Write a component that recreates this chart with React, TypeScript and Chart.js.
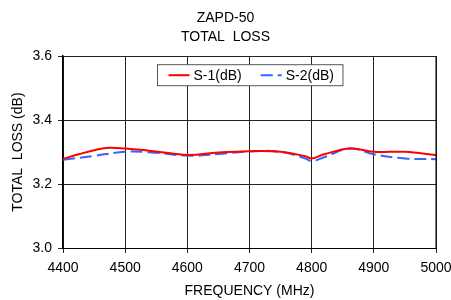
import React, { useEffect, useRef } from "react";
import { Chart, registerables } from "chart.js";

Chart.register(...registerables);

const titleLines = ["ZAPD-50", "TOTAL  LOSS"];
const xTitle = "FREQUENCY (MHz)";
const yTitle = "TOTAL  LOSS (dB)";
const seriesNames = ["S-1(dB)", "S-2(dB)"];

const s1Freq = [4400, 4425, 4450, 4470, 4500, 4550, 4600, 4650, 4700, 4750, 4790, 4800, 4820, 4862, 4900, 4950, 5000];
const s1Loss = [3.279, 3.293, 3.306, 3.313, 3.311, 3.302, 3.291, 3.299, 3.303, 3.301, 3.287, 3.280, 3.293, 3.311, 3.301, 3.301, 3.291];

const s2Freq = [4400, 4450, 4500, 4550, 4600, 4650, 4700, 4750, 4790, 4800, 4820, 4862, 4900, 4950, 5000];
const s2Loss = [3.276, 3.288, 3.301, 3.298, 3.289, 3.294, 3.302, 3.301, 3.280, 3.272, 3.284, 3.311, 3.293, 3.280, 3.278];

const legendBoxPlugin = {
  id: "legendBox",
  afterDatasetsDraw(chart: any) {
    const { ctx, chartArea } = chart;
    const font = "14px 'Liberation Sans', Arial, sans-serif";
    ctx.save();
    ctx.font = font;
    const sample = 21;
    const gapAfterSample = 4;
    const gapBetween = 19;
    const padL = 11;
    const padR = 9;
    const items = chart.data.datasets.map((d: any) => ({
      label: d.label,
      color: d.borderColor,
      dash: d.borderDash || [],
      w: ctx.measureText(d.label).width,
    }));
    let total = padL + padR;
    items.forEach((it: any, i: number) => {
      total += sample + gapAfterSample + it.w + (i < items.length - 1 ? gapBetween : 0);
    });
    const boxH = 21;
    const cx = (chartArea.left + chartArea.right) / 2;
    const left = Math.round(cx - total / 2) + 0.5;
    const top = chartArea.top + 8.5;
    ctx.fillStyle = "#ffffff";
    ctx.fillRect(left, top, total, boxH);
    ctx.strokeStyle = "#555555";
    ctx.lineWidth = 1;
    ctx.strokeRect(left, top, total, boxH);
    let x = left + padL;
    const midY = top + boxH / 2;
    items.forEach((it: any) => {
      ctx.beginPath();
      ctx.setLineDash(it.dash);
      ctx.strokeStyle = it.color;
      ctx.lineWidth = 2;
      ctx.moveTo(x, midY);
      ctx.lineTo(x + sample, midY);
      ctx.stroke();
      ctx.setLineDash([]);
      x += sample + gapAfterSample;
      ctx.fillStyle = "#000000";
      ctx.textBaseline = "middle";
      ctx.textAlign = "left";
      ctx.fillText(it.label, x, midY + 1);
      x += it.w + gapBetween;
    });
    ctx.restore();
  },
};

export default function App() {
  const ref = useRef<HTMLCanvasElement | null>(null);
  useEffect(() => {
    document.body.style.margin = "0";
    const canvas = ref.current!;
    const font = { family: "'Liberation Sans', Arial, sans-serif", size: 14 };
    const chart = new Chart(canvas, {
      type: "scatter",
      data: {
        datasets: [
          {
            label: seriesNames[0],
            data: s1Freq.map((f, i) => ({ x: f, y: s1Loss[i] })),
            showLine: true,
            borderColor: "#ff0000",
            backgroundColor: "#ff0000",
            borderWidth: 2,
            pointRadius: 0,
            tension: 0.4,
          },
          {
            label: seriesNames[1],
            data: s2Freq.map((f, i) => ({ x: f, y: s2Loss[i] })),
            showLine: true,
            borderColor: "#3366ff",
            backgroundColor: "#3366ff",
            borderWidth: 2,
            borderDash: [12, 5],
            pointRadius: 0,
            tension: 0.4,
          },
        ],
      },
      options: {
        animation: false,
        responsive: false,
        devicePixelRatio: 1,
        layout: { padding: { left: 0, right: 0, top: 0, bottom: 0 } },
        plugins: {
          legend: { display: false },
          tooltip: { enabled: false },
          title: {
            display: true,
            text: titleLines,
            color: "#000",
            font: { ...font, weight: "normal", lineHeight: 1.4 },
            padding: { top: 8, bottom: 9 },
          },
        },
        scales: {
          x: {
            type: "linear",
            min: 4400,
            max: 5000,
            ticks: { stepSize: 100, color: "#000", font, padding: 7, maxRotation: 0, callback: (v: any) => String(v) },
            grid: { color: "#222", lineWidth: 1, tickLength: 5, drawTicks: true },
            border: { color: "#000", width: 1 },
            title: { display: true, text: xTitle, color: "#000", font, padding: { top: 4, bottom: 0 } },
            afterFit: (s: any) => { s.height = 52; s.paddingRight = 15; s.paddingLeft = 0; },
          },
          y: {
            min: 3.0,
            max: 3.6,
            ticks: { stepSize: 0.2, color: "#000", font, padding: 6, callback: (v: any) => Number(v).toFixed(1) },
            grid: { color: "#222", lineWidth: 1, tickLength: 5 },
            border: { color: "#000", width: 1.5 },
            title: { display: true, text: yTitle, color: "#000", font, padding: { top: 10, bottom: 0 } },
            afterFit: (s: any) => { s.width = 63; },
          },
        },
      },
      plugins: [
        legendBoxPlugin,
        {
          id: "frame",
          afterDraw(c: any) {
            const { ctx, chartArea: a } = c;
            ctx.save();
            ctx.strokeStyle = "#000";
            ctx.lineWidth = 1;
            ctx.beginPath();
            ctx.moveTo(a.right, a.top);
            ctx.lineTo(a.right, a.bottom);
            ctx.stroke();
            ctx.restore();
          },
        },
      ],
    });
    return () => chart.destroy();
  }, []);
  return <canvas ref={ref} width={451} height={300} style={{ display: "block" }} />;
}
